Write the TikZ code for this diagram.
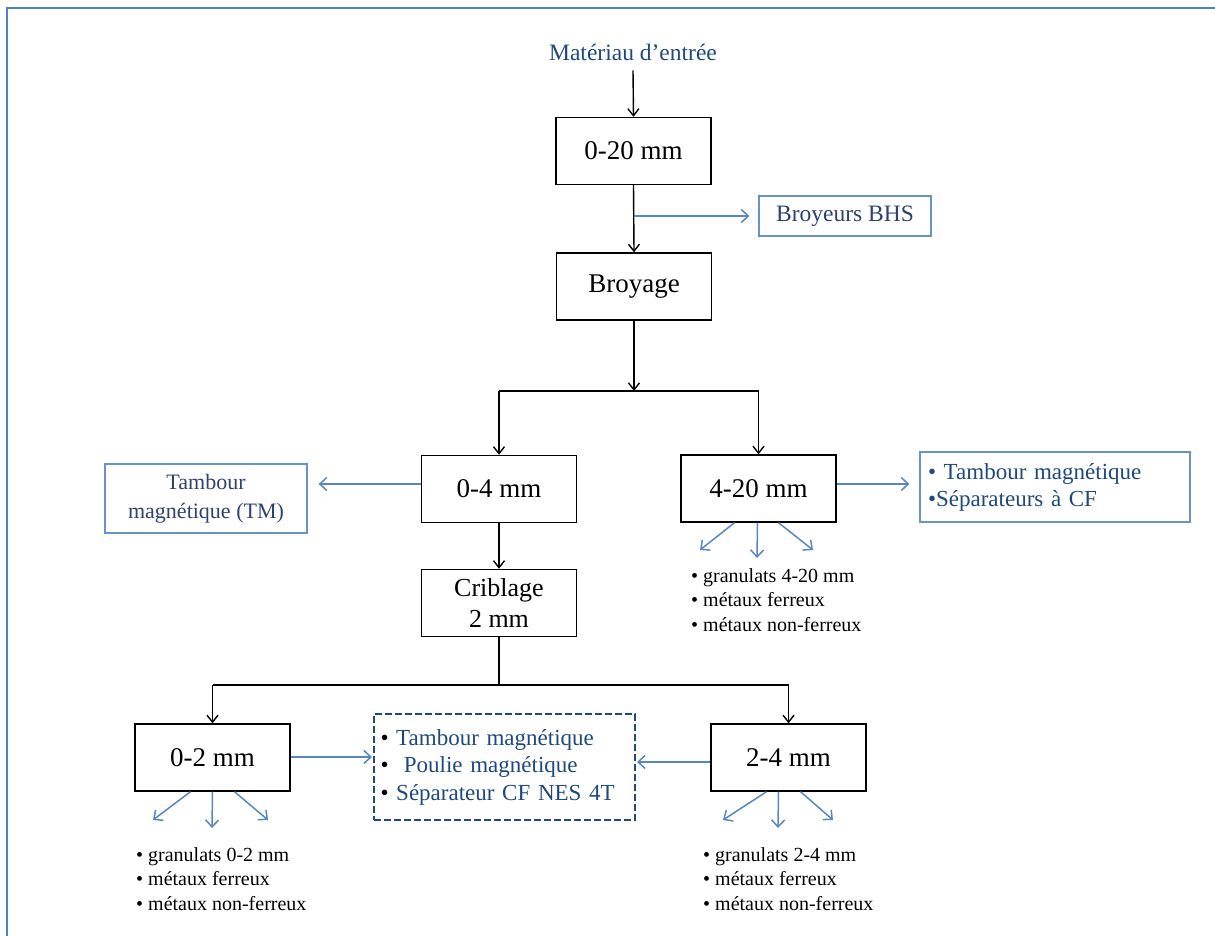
\documentclass[tikz,border=0pt]{standalone}
\usepackage{fontspec}
\setmainfont{Liberation Serif}
\usetikzlibrary{arrows.meta}
\definecolor{framecol}{RGB}{79,129,189}
\definecolor{arrblue}{RGB}{88,133,196}
\definecolor{boxblue}{RGB}{106,145,204}
\definecolor{txtblue}{RGB}{31,73,125}
\definecolor{slateblue}{RGB}{45,66,110}
\tikzset{
  mainbox/.style={draw=black, line width=1.4pt, minimum width=155pt, minimum height=67pt, inner sep=0pt, align=center, font=\fontsize{27}{31}\selectfont},
  bluebox/.style={draw=boxblue, line width=1.3pt, inner sep=0pt, text=slateblue, font=\fontsize{22}{29}\selectfont},
  blk/.style={draw=black, line width=1.4pt, -{Straight Barb[length=7pt,width=11pt,line width=1.4pt]}},
  blkline/.style={draw=black, line width=1.4pt},
  blu/.style={draw=arrblue, line width=1.5pt, -{Straight Barb[length=7pt,width=13pt,line width=1.5pt]}},
  listtxt/.style={anchor=north west, inner sep=0pt, align=left, font=\fontsize{20}{24.5}\selectfont},
}
\begin{document}
\begin{tikzpicture}[x=1pt,y=-1pt]
\useasboundingbox (0,0) rectangle (1215,936);
% frame
\draw[framecol, line width=2pt] (7,936) -- (7,8) -- (1215,8);

% nodes
\node[text=txtblue, font=\fontsize{23.5}{26}\selectfont, inner sep=2pt] (mat) at (633,52) {Matériau d’entrée};
\node[mainbox] (n020) at (633.5,151) {0-20 mm};
\node[bluebox, minimum width=172pt, minimum height=40pt, font=\fontsize{23.5}{26}\selectfont] (bhs) at (845,216) {Broyeurs BHS};
\node[mainbox] (broy) at (634,286.5) {Broyage};
\node[mainbox] (n04) at (499,489) {0-4 mm};
\node[mainbox] (n420) at (758.5,488.5) {4-20 mm};
\node[bluebox, minimum width=202pt, minimum height=69pt, align=center] (tm) at (206,498.5) {Tambour\\magnétique (TM)};
\node[bluebox, minimum width=270pt, minimum height=70pt, text width=254pt, align=left, text=txtblue, font=\fontsize{23}{27}\selectfont] (sep) at (1055,487) {• Tambour magnétique\\•Séparateurs à CF};
\node[mainbox, font=\fontsize{26}{31}\selectfont] (crib) at (499,603) {Criblage\\2 mm};
\node[mainbox] (n02) at (212.5,757.5) {0-2 mm};
\node[mainbox] (n24) at (788.5,757.5) {2-4 mm};
\node[draw=txtblue, line width=2pt, dash pattern=on 7pt off 3pt, minimum width=261pt, minimum height=106pt, text width=248pt, inner sep=0pt, align=left, text=txtblue, font=\fontsize{23}{27.5}\selectfont] (dash) at (504.5,767)
  {\textcolor{black}{•} Tambour magnétique\\\textcolor{black}{•}\ \ Poulie magnétique\\\textcolor{black}{•} Séparateur CF NES 4T};

% lists
\node[listtxt] (l420) at (691,568) {• granulats 4-20 mm\\• métaux ferreux\\• métaux non-ferreux};
\node[listtxt] (l02) at (136,847) {• granulats 0-2 mm\\• métaux ferreux\\• métaux non-ferreux};
\node[listtxt] (l24) at (703,847) {• granulats 2-4 mm\\• métaux ferreux\\• métaux non-ferreux};

% coordinates
\coordinate (c1) at (633.5,216);
\coordinate (s1) at (634,391);
\coordinate (s2) at (499,685);
\coordinate (fa1) at (700,550);
\coordinate (fa2) at (757,558);
\coordinate (fa3) at (813,550);
\coordinate (fb1) at (153,820);
\coordinate (fb2) at (212,828);
\coordinate (fb3) at (268,820);
\coordinate (fc1) at (723,820);
\coordinate (fc2) at (778,828);
\coordinate (fc3) at (833,820);

% black connectors
\draw[blk] (mat.south) ++(0,8) coordinate (m0) -- (n020.north);
\draw[blk] (n020.south) -- (broy.north);
\draw[blk] (broy.south) -- (s1);
\draw[blkline] (n04.north |- s1) -- (n420.north |- s1);
\draw[blk] (n04.north |- s1) -- (n04.north);
\draw[blk] (n420.north |- s1) -- (n420.north);
\draw[blk] (n04.south) -- (crib.north);
\draw[blkline] (crib.south) -- (s2);
\draw[blkline] (n02.north |- s2) -- (n24.north |- s2);
\draw[blk] (n02.north |- s2) -- (n02.north);
\draw[blk] (n24.north |- s2) -- (n24.north);

% blue connectors
\draw[blu] (c1) -- ([xshift=-9pt]bhs.west |- c1);
\draw[blu] (n04.west |- 0,484) -- ([xshift=11pt]tm.east |- 0,484);
\draw[blu] (n420.east |- 0,484) -- ([xshift=-10pt]sep.west |- 0,484);
\draw[blu] (n02.east |- 0,757) -- ([xshift=-1pt]dash.west |- 0,757);
\draw[blu] (n24.west |- 0,762) -- ([xshift=1pt]dash.east |- 0,762);

\draw[blu] ([xshift=-24pt]n420.south) -- (fa1);
\draw[blu] ([xshift=-1pt]n420.south) -- (fa2);
\draw[blu] ([xshift=20pt]n420.south) -- (fa3);
\draw[blu] ([xshift=-22pt]n02.south) -- (fb1);
\draw[blu] ([xshift=0pt]n02.south) -- (fb2);
\draw[blu] ([xshift=22pt]n02.south) -- (fb3);
\draw[blu] ([xshift=-22pt]n24.south) -- (fc1);
\draw[blu] ([xshift=-10pt]n24.south) -- (fc2);
\draw[blu] ([xshift=12pt]n24.south) -- (fc3);
\end{tikzpicture}
\end{document}
